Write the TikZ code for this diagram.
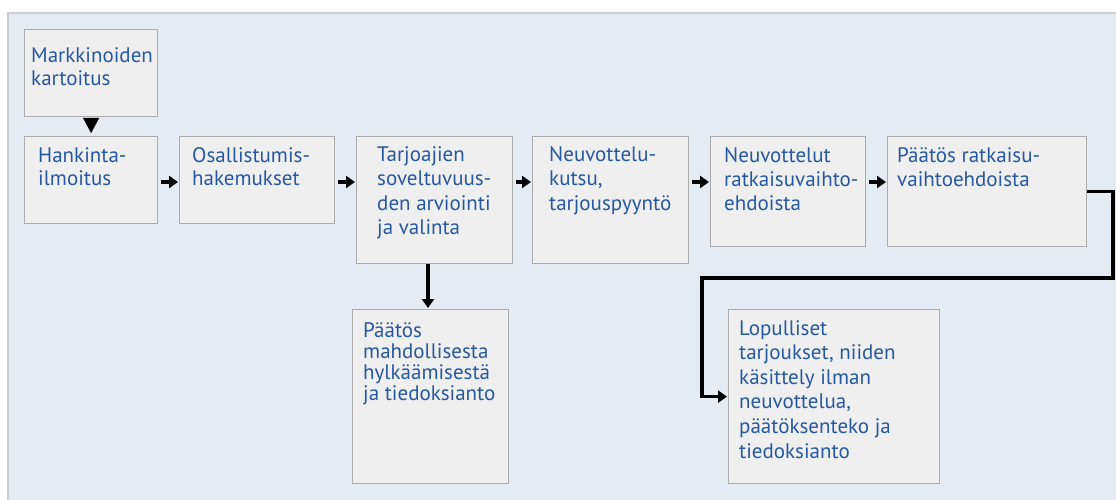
\documentclass[tikz,border=0pt]{standalone}
\usepackage{fontspec}
\setmainfont{PT Sans}
\usetikzlibrary{arrows.meta}
\definecolor{panel}{RGB}{228,235,243}
\definecolor{panelline}{RGB}{200,204,208}
\definecolor{boxfill}{RGB}{239,239,239}
\definecolor{boxline}{RGB}{172,172,172}
\definecolor{txt}{RGB}{38,88,160}
% lines of a stage text, aligned on the baseline of the first line
\newcommand\stagelines[1]{\begin{tabular}[t]{@{}l@{}}#1\end{tabular}}
\begin{document}
\begin{tikzpicture}[x=1pt,y=-1pt,
  stagebox/.style={draw=boxline,fill=boxfill,line width=1.2pt,rectangle,
    anchor=north west,inner sep=0pt},
  stagetext/.style={anchor=base west,inner sep=0pt,text=txt,
    font=\fontsize{21}{#1}\selectfont},
  stagetext/.default=23.5,
  flow/.style={line width=3.3pt,-{Triangle[length=9pt,width=12pt]},
    shorten <=2.5pt,shorten >=1pt},
  elbow/.style={line width=3.3pt,-{Triangle[length=9pt,width=12pt]},
    shorten >=1pt},
  dropper/.style={line width=0.1pt,-{Triangle[length=15pt,width=16pt]},
    shorten <=2pt,shorten >=3pt}]
\useasboundingbox (0,0) rectangle (1116,500);
% background panel
\fill[panel] (8,13) rectangle (1116,500);
\draw[panelline,line width=1.5pt] (8,500) -- (8,13) -- (1116,13);

% stage boxes
\node[stagebox,minimum width=133pt,minimum height=87pt] (mark) at (24,29) {};
\node[stagebox,minimum width=133pt,minimum height=87pt] (hank) at (24,136) {};
\node[stagebox,minimum width=155pt,minimum height=87pt] (osal) at (179,136) {};
\node[stagebox,minimum width=156pt,minimum height=127pt] (tarj) at (356,136) {};
\node[stagebox,minimum width=156pt,minimum height=127pt] (kuts) at (532,136) {};
\node[stagebox,minimum width=155pt,minimum height=110pt] (neuv) at (710,136) {};
\node[stagebox,minimum width=199pt,minimum height=110pt] (paat) at (887,136) {};
\node[stagebox,minimum width=156pt,minimum height=174pt] (hylk) at (352,309) {};
\node[stagebox,minimum width=211pt,minimum height=174pt] (lopu) at (728,309) {};

% stage texts
\node[stagetext=22.3] (tmark) at (31,63) {\stagelines{Markkinoiden\\kartoitus}};
\node[stagetext] (thank) at (38,162) {\stagelines{Hankinta-\\ilmoitus}};
\node[stagetext] (tosal) at (192,162) {\stagelines{Osallistumis-\\hakemukset}};
\node[stagetext=24.5] (ttarj) at (377,161) {\stagelines{Tarjoajien\\soveltuvuus-\\den arviointi\\ja valinta}};
\node[stagetext=24.5] (tkuts) at (549,161) {\stagelines{Neuvottelu-\\kutsu,\\tarjouspyyntö}};
\node[stagetext=24] (tneuv) at (724,162) {\stagelines{Neuvottelut\\ratkaisuvaihto-\\ehdoista}};
\node[stagetext=24] (tpaat) at (897,162) {\stagelines{Päätös ratkaisu-\\vaihtoehdoista}};
\node[stagetext=21] (thylk) at (363,337) {\stagelines{Päätös\\mahdollisesta\\hylkäämisestä\\ja tiedoksianto}};
\node[stagetext=24.6] (tlopu) at (739,335) {\stagelines{Lopulliset\\tarjoukset, niiden\\käsittely ilman\\neuvottelua,\\päätöksenteko ja\\tiedoksianto}};

% connectors
\coordinate (row) at (0,182);
\coordinate (drop) at (428,0);
\coordinate (turnR) at (1113,278);
\coordinate (turnL) at (702,278);
\draw[dropper] (mark.south) -- (hank.north);
\draw[flow] (hank.east |- row) -- (osal.west |- row);
\draw[flow] (osal.east |- row) -- (tarj.west |- row);
\draw[flow] (tarj.east |- row) -- (kuts.west |- row);
\draw[flow] (kuts.east |- row) -- (neuv.west |- row);
\draw[flow] (neuv.east |- row) -- (paat.west |- row);
\draw[flow,shorten <=0pt] (tarj.south -| drop) -- (hylk.north -| drop);
\draw[elbow] (paat.east) -| (turnR) -- (turnL) |- (lopu.west);
\end{tikzpicture}
\end{document}
